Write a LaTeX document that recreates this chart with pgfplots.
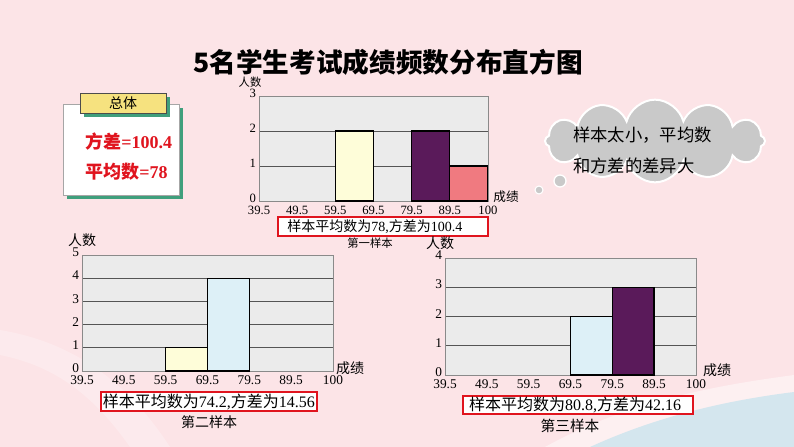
\documentclass[border=0pt]{standalone}
\usepackage{fontspec}
\setmainfont{Liberation Serif}
\newfontfamily\cjk{Noto Sans CJK SC}
\usepackage{pgfplots}
\pgfplotsset{compat=1.18}
\usetikzlibrary{shapes.symbols}

\definecolor{bgpink}{HTML}{FCE4E7}
\definecolor{wavblue}{HTML}{D4E6EE}
\definecolor{plotbg}{HTML}{EBEBEB}
\definecolor{axisgray}{HTML}{8A8A8A}
\definecolor{gridgray}{HTML}{555555}
\definecolor{barcream}{HTML}{FEFDD9}
\definecolor{barblue}{HTML}{DDF0F7}
\definecolor{barpurple}{HTML}{5A1A5A}
\definecolor{barsalmon}{HTML}{F07A80}
\definecolor{boxred}{HTML}{E0141E}
\definecolor{tabyellow}{HTML}{F6E27F}
\definecolor{shadowgreen}{HTML}{3F9F7C}
\definecolor{cloudgray}{HTML}{C9C9C9}

\newcommand\zh[1]{{\cjk #1}}

\pgfplotsset{
  hist/.style={
    scale only axis, anchor=south west,
    xmin=0, xmax=6, ymin=0,
    axis background/.style={fill=plotbg},
    axis line style={draw=axisgray, line width=0.6pt},
    xtick={0,...,6},
    xticklabels={39.5,49.5,59.5,69.5,79.5,89.5,100},
    ytick distance=1,
    major tick length=0pt,
    ymajorgrids, grid style={draw=gridgray, line width=0.6pt},
    tick label style={font=\fontsize{10}{10}\selectfont},
    xticklabel style={inner sep=1pt, yshift=-2.5pt},
    yticklabel style={inner sep=2pt, yshift=2pt},
    /pgf/number format/assume math mode=true,
  },
  bin/.style={ybar, bar width=1, bar shift=0pt, draw=black, line width=1pt, fill=#1},
}

\begin{document}
\begin{tikzpicture}
\begin{scope}[x=0.75pt, y=-0.75pt]
  \useasboundingbox (0,0) rectangle (794,447);
  \fill[bgpink] (0,0) rectangle (794,447);
  % background waves
  \fill[white, opacity=0.25] (0,330) .. controls (60,340) and (120,370) .. (170,447) -- (130,447) .. controls (90,390) and (50,365) .. (0,355) -- cycle;
  \fill[white, opacity=0.45] (545,447) .. controls (630,400) and (720,385) .. (794,375) -- (794,447) -- cycle;
  \fill[wavblue] (590,447) .. controls (660,415) and (730,400) .. (794,392) -- (794,447) -- cycle;

  % title
  \node at (388,62) {\fontsize{20}{20}\selectfont\cjk\bfseries 5名学生考试成绩频数分布直方图};

  % population box
  \fill[shadowgreen] (67,108) rectangle (183,199);
  \draw[fill=white, draw=gray!70, line width=0.4pt] (63,104) rectangle (179,195);
  \fill[shadowgreen] (84,97) rectangle (170,117);
  \draw[fill=tabyellow, draw=black!70, line width=0.5pt] (80,93) rectangle (166,113);
  \node at (123,103) {\fontsize{10.5}{10.5}\selectfont\cjk 总体};
  \node[anchor=west, inner sep=0pt, text=boxred] at (85,142)
    {\fontsize{13.5}{13.5}\selectfont\bfseries\zh{方差}=100.4};
  \node[anchor=west, inner sep=0pt, text=boxred] at (85,172)
    {\fontsize{13.5}{13.5}\selectfont\bfseries\zh{平均数}=78};

  % thought cloud
  \node[cloud, cloud puffs=12, aspect=2.7, fill=cloudgray, draw=white, line width=1.5pt,
        minimum width=165pt, minimum height=62pt] at (655,141) {};
  \draw[fill=cloudgray, draw=white, line width=1pt] (560,181) circle (6);
  \draw[fill=cloudgray, draw=white, line width=0.8pt] (539,190) circle (4);
  \node[anchor=west, inner sep=0pt] at (573,135) {\fontsize{13}{13}\selectfont\cjk 样本太小，平均数};
  \node[anchor=west, inner sep=0pt] at (573,166) {\fontsize{13}{13}\selectfont\cjk 和方差的差异大};

  % axis captions, chart 1
  \node at (250,82) {\fontsize{8.5}{8.5}\selectfont\cjk 人数};
  \node at (506,197) {\fontsize{9.5}{9.5}\selectfont\cjk 成绩};
  \draw[boxred, fill=white, line width=1.5pt] (278,217) rectangle (488,236);
  \node[anchor=west, inner sep=0pt] at (287,226.5) {\fontsize{10.5}{10.5}\selectfont\zh{样本平均数为}78,\zh{方差为}100.4};
  \node at (370,243) {\fontsize{8.5}{8.5}\selectfont\cjk 第一样本};

  % chart 2
  \node at (82,240) {\fontsize{10.5}{10.5}\selectfont\cjk 人数};
  \node at (350,368) {\fontsize{10.5}{10.5}\selectfont\cjk 成绩};
  \draw[boxred, fill=white, line width=1.5pt] (101,392) rectangle (317,411);
  \node[inner sep=0pt] at (209,401.5) {\fontsize{12}{12}\selectfont\zh{样本平均数为}74.2,\zh{方差为}14.56};
  \node at (209,422) {\fontsize{10.5}{10.5}\selectfont\cjk 第二样本};

  % chart 3
  \node at (440,243) {\fontsize{10.5}{10.5}\selectfont\cjk 人数};
  \node at (717,370) {\fontsize{10.5}{10.5}\selectfont\cjk 成绩};
  \draw[boxred, fill=white, line width=1.5pt] (463,396) rectangle (693,414);
  \node[inner sep=0pt] at (575,405) {\fontsize{12}{12}\selectfont\zh{样本平均数为}80.8,\zh{方差为}42.16};
  \node at (570,426) {\fontsize{11}{11}\selectfont\cjk 第三样本};
\end{scope}

% first sample
\begin{axis}[hist, at={(194.25pt,-150.75pt)}, width=171.75pt, height=78.75pt, ymax=3,
  tick label style={font=\fontsize{9.5}{9.5}\selectfont}]
\addplot[bin=barcream] coordinates {(2.5,2)};
\addplot[bin=barpurple] coordinates {(4.5,2)};
\addplot[bin=barsalmon] coordinates {(5.5,1)};
\end{axis}

% second sample
\begin{axis}[hist, at={(61.5pt,-278.25pt)}, width=188.25pt, height=87pt, ymax=5]
\addplot[bin=barcream] coordinates {(2.5,1)};
\addplot[bin=barblue] coordinates {(3.5,4)};
\end{axis}

% third sample
\begin{axis}[hist, at={(333.75pt,-281.25pt)}, width=188.25pt, height=87.75pt, ymax=4]
\addplot[bin=barblue] coordinates {(3.5,2)};
\addplot[bin=barpurple] coordinates {(4.5,3)};
\end{axis}
\end{tikzpicture}
\end{document}
